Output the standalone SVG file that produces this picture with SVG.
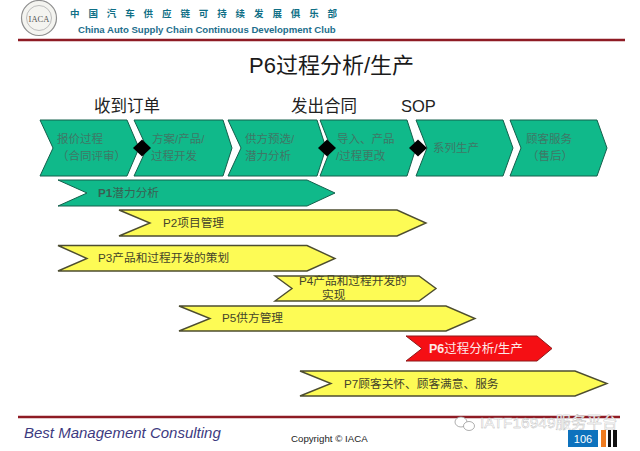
<svg xmlns="http://www.w3.org/2000/svg" width="640" height="451" viewBox="0 0 640 451">
<style>
text{font-family:"Liberation Sans","Noto Sans CJK SC",sans-serif;fill:#333}
.g{fill:#10b98a;stroke:#14604c;stroke-width:1}
.y{fill:#fdfb55;stroke:#4d4d30;stroke-width:1.4}
.r{fill:#f50f14;stroke:#8c1a1a;stroke-width:1}
.d{fill:#000}
.s{font-size:11.500px;fill:#3f7766}
.b{font-size:11.700px;fill:#44442a}
.h{font-size:16.500px;fill:#222}
.rule{stroke:#8e1b24;stroke-width:2.4}
</style>
<rect width="640" height="451" fill="#fff"/>
<g id="header">
<circle cx="39" cy="18" r="17.500" fill="#f4f4f0" stroke="#8f8f8f" stroke-width="1.200"/>
<circle cx="39" cy="18" r="12.500" fill="none" stroke="#bdbdbd" stroke-width="1"/>
<text x="39" y="22" text-anchor="middle" style="font-family:'Liberation Serif',serif;font-size:8.500px;fill:#555">IACA</text>
<text x="70" y="17" style="font-size:9.500px;font-weight:700;fill:#0f6f86;letter-spacing:8.900px">中国汽车供应链可持续发展俱乐部</text>
<text x="78" y="33" style="font-size:9.600px;font-weight:700;fill:#1d6e8c">China Auto Supply Chain Continuous Development Club</text>
<line class="rule" x1="18" y1="40" x2="625" y2="40"/>
</g>
<text x="249" y="73" style="font-size:22px;fill:#1a1a1a">P6过程分析/生产</text>
<text x="94" y="112" class="h">收到订单</text>
<text x="291" y="112" class="h">发出合同</text>
<text x="401" y="112" class="h">SOP</text>
<g id="s1"><polygon class="g" points="40,120 127,120 139,148 127,176 40,176 53,148"/><text class="s" x="57" y="143">报价过程</text><text class="s" x="57" y="160">（合同评审）</text></g>
<g id="s2"><polygon class="g" points="134,120 223,120 232,148 223,176 134,176 147,148"/><text class="s" x="152" y="143">方案/产品/</text><text class="s" x="151" y="160">过程开发</text></g>
<g id="s3"><polygon class="g" points="228,120 317,120 326,148 317,176 228,176 241,148"/><text class="s" x="245" y="143">供方预选/</text><text class="s" x="245" y="160">潜力分析</text></g>
<g id="s4"><polygon class="g" points="320,120 407,120 416,148 407,176 320,176 331,148"/><text class="s" x="337" y="143">导入、产品</text><text class="s" x="336" y="160">/过程更改</text></g>
<g id="s5"><polygon class="g" points="416,120 503,120 513,148 503,176 416,176 427,148"/><text class="s" x="433" y="152">系列生产</text></g>
<g id="s6"><polygon class="g" points="510,120 597,120 607,148 597,176 510,176 521,148"/><text class="s" x="526" y="143">顾客服务</text><text class="s" x="527" y="160">（售后）</text></g>
<g id="connectors">
<polygon class="d" points="142,139.500 151,148 142,156.500 133,148"/>
<polygon class="d" points="327,139.500 336,148 327,156.500 318,148"/>
<polygon class="d" points="418,139.500 427,148 418,156.500 409,148"/>
</g>
<g id="p1"><polygon class="g" points="58,180 307,180 335,193 307,206 58,206 87,193"/><text class="b" x="98" y="197" style="fill:#3a5f52"><tspan style="font-weight:700">P1</tspan>潜力分析</text></g>
<g id="p2"><polygon class="y" points="119,210 397,210 426,223 397,236 119,236 150,223"/><text class="b" x="163" y="227">P2项目管理</text></g>
<g id="p3"><polygon class="y" points="58,245.500 307,245.500 335,258.500 307,271 58,271 87,258.500"/><text class="b" x="98" y="262">P3产品和过程开发的策划</text></g>
<g id="p4"><polygon class="y" points="275,276 419,276 436,288.500 419,301 275,301 292,288.500"/><text class="b" x="299" y="285">P4产品和过程开发的</text><text class="b" x="322" y="299">实现</text></g>
<g id="p5"><polygon class="y" points="179,306 446,306 475,318.500 446,331 179,331 210,318.500"/><text class="b" x="222" y="322">P5供方管理</text></g>
<g id="p6"><polygon class="r" points="406,336 537,336 552,348.500 537,361 406,361 422,348.500"/><text class="b" x="429" y="353" style="fill:#fde8e8;font-size:12.500px"><tspan style="font-weight:700">P6</tspan>过程分析/生产</text></g>
<g id="p7"><polygon class="y" points="300,371 575,371 607,383.500 575,396 300,396 331,383.500"/><text class="b" x="344" y="388">P7顾客关怀、顾客满意、服务</text></g>
<g id="footer">
<line class="rule" x1="18" y1="417" x2="620" y2="417"/>
<text x="24" y="438" style="font-size:15px;font-style:italic;fill:#3d3a80">Best Management Consulting</text>
<text x="291" y="442" style="font-size:9.700px;fill:#222">Copyright © IACA</text>
<text x="480" y="428" style="font-size:15.500px;fill:#fff;stroke:#b5b5b5;stroke-width:.4">IATF16949服务平台</text>
<ellipse cx="461" cy="422" rx="6" ry="5" fill="#fff" stroke="#9a9a9a" stroke-width=".8"/>
<ellipse cx="469" cy="426" rx="5.500" ry="4.500" fill="#fff" stroke="#9a9a9a" stroke-width=".8"/>
<rect x="568" y="430" width="30" height="17" fill="#0d72bd"/>
<text x="583" y="443" text-anchor="middle" style="font-size:11px;fill:#fff">106</text>
<rect x="601" y="430" width="5" height="17" fill="#ee7b1f"/>
<rect x="608" y="430" width="3" height="17" fill="#111"/>
<rect x="613" y="430" width="4" height="17" fill="#111"/>
</g>
</svg>
